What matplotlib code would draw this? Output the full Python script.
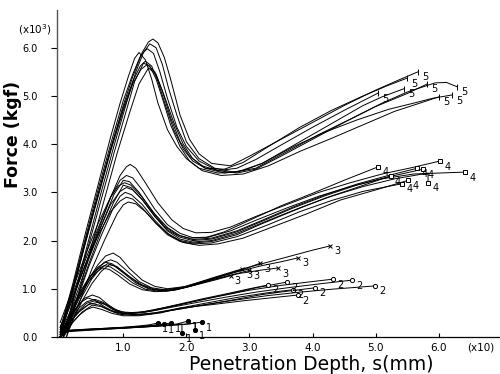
import numpy as np
import matplotlib
matplotlib.use("Agg")
import matplotlib.pyplot as plt

plt.rcParams['font.family'] = ['DejaVu Sans']

# penetration depth in units of 10 mm, force in units of 1000 kgf
# group 5 (top)
g5_x = [
    [0.0, 0.2, 0.4, 0.6, 0.8, 1.0, 1.15, 1.3, 1.4, 1.47, 1.55, 1.65, 1.75, 1.9, 2.05, 2.2, 2.4, 2.7, 3.0, 3.5, 4.0, 4.5, 5.0, 5.4, 5.67],
    [0.05, 0.25, 0.45, 0.65, 0.85, 1.05, 1.2, 1.32, 1.42, 1.52, 1.62, 1.72, 1.85, 2.0, 2.2, 2.45, 2.75, 3.1, 3.6, 4.1, 4.6, 5.1, 5.5, 5.94, 6.12, 6.29],
    [0.0, 0.2, 0.4, 0.6, 0.8, 1.0, 1.15, 1.28, 1.38, 1.48, 1.58, 1.7, 1.85, 2.0, 2.2, 2.5, 2.8, 3.1, 3.5, 4.0, 4.5, 5.0, 5.5, 5.82],
    [0.0, 0.2, 0.4, 0.6, 0.8, 0.95, 1.08, 1.18, 1.25, 1.35, 1.45, 1.55, 1.7, 1.85, 2.0, 2.2, 2.5, 2.8, 3.2, 3.7, 4.2, 4.7, 5.2, 5.6, 5.9, 6.21],
    [0.0, 0.2, 0.4, 0.6, 0.8, 1.0, 1.15, 1.27, 1.35, 1.45, 1.55, 1.67, 1.8, 1.95, 2.1, 2.3, 2.6, 2.9, 3.3, 3.8, 4.3, 4.8, 5.2, 5.5],
    [0.05, 0.25, 0.45, 0.65, 0.85, 1.05, 1.18, 1.32, 1.42, 1.52, 1.62, 1.75, 1.9, 2.05, 2.25, 2.55, 2.9, 3.3, 3.8, 4.3, 4.8, 5.3, 5.7, 6.0],
    [0.1, 0.3, 0.5, 0.7, 0.9, 1.1, 1.25, 1.4, 1.52, 1.65, 1.8, 1.95, 2.1, 2.3, 2.6, 2.9, 3.2, 3.6, 4.0, 4.4, 4.8, 5.1, 5.45],
    [0.0, 0.2, 0.4, 0.6, 0.8, 1.0, 1.15, 1.28, 1.38, 1.5, 1.62, 1.75, 1.9, 2.05, 2.25, 2.5, 2.8, 3.1, 3.5, 4.0, 4.5, 5.04],
]
g5_y = [
    [0.0, 0.95, 1.95, 2.95, 3.9, 4.8, 5.4, 5.9, 6.12, 6.18, 6.1, 5.8, 5.35, 4.6, 4.1, 3.8, 3.6, 3.55, 3.75, 4.1, 4.45, 4.8, 5.12, 5.35, 5.5],
    [0.0, 1.0, 2.0, 3.0, 3.95, 4.85, 5.5, 5.9, 6.08, 6.0, 5.65, 5.15, 4.6, 4.05, 3.7, 3.5, 3.42, 3.5, 3.85, 4.2, 4.52, 4.85, 5.08, 5.27, 5.28, 5.19],
    [0.05, 1.05, 2.05, 3.05, 4.0, 4.9, 5.45, 5.85, 5.98, 5.88, 5.5, 4.95, 4.35, 3.95, 3.65, 3.45, 3.4, 3.48, 3.75, 4.1, 4.45, 4.78, 5.05, 5.25],
    [0.15, 1.1, 2.15, 3.15, 4.15, 4.85, 5.4, 5.78, 5.9, 5.75, 5.35, 4.85, 4.3, 3.95, 3.7, 3.5, 3.4, 3.42, 3.6, 3.95, 4.25, 4.5, 4.72, 4.85, 4.95, 5.02],
    [0.1, 1.0, 2.0, 2.95, 3.9, 4.75, 5.3, 5.62, 5.72, 5.62, 5.3, 4.8, 4.3, 3.9, 3.65, 3.5, 3.48, 3.62, 3.95, 4.35, 4.7, 5.0, 5.22, 5.37],
    [0.0, 0.95, 1.9, 2.85, 3.8, 4.7, 5.3, 5.68, 5.62, 5.35, 4.95, 4.4, 3.95, 3.65, 3.45, 3.35, 3.38, 3.55, 3.85, 4.12, 4.4, 4.68, 4.85, 4.98],
    [0.0, 0.95, 1.9, 2.85, 3.8, 4.65, 5.25, 5.58, 5.45, 5.0, 4.45, 4.0, 3.7, 3.5, 3.4, 3.45, 3.6, 3.9, 4.2, 4.5, 4.8, 4.98, 5.15],
    [0.0, 0.95, 1.95, 2.9, 3.85, 4.7, 5.25, 5.55, 5.65, 5.5, 5.1, 4.55, 4.05, 3.75, 3.55, 3.45, 3.5, 3.68, 3.98, 4.35, 4.7, 5.06],
]

# group 4
g4_x = [
    [0.0, 0.2, 0.4, 0.6, 0.8, 0.95, 1.05, 1.11, 1.2, 1.35, 1.55, 1.77, 1.95, 2.15, 2.4, 2.7, 3.1, 3.6, 4.1, 4.6, 5.1, 5.6, 6.02],
    [0.0, 0.2, 0.4, 0.6, 0.8, 0.95, 1.05, 1.15, 1.3, 1.5, 1.7, 1.9, 2.1, 2.35, 2.7, 3.1, 3.6, 4.1, 4.6, 5.1, 5.6, 6.0, 6.42],
    [0.05, 0.25, 0.45, 0.65, 0.85, 1.0, 1.1, 1.25, 1.45, 1.65, 1.85, 2.05, 2.3, 2.6, 3.0, 3.5, 4.0, 4.5, 5.04],
    [0.0, 0.2, 0.4, 0.6, 0.8, 0.92, 1.02, 1.12, 1.3, 1.5, 1.7, 1.9, 2.1, 2.4, 2.8, 3.2, 3.7, 4.2, 4.7, 5.2, 5.66],
    [0.05, 0.25, 0.45, 0.65, 0.85, 1.0, 1.12, 1.3, 1.5, 1.7, 1.9, 2.1, 2.4, 2.8, 3.2, 3.7, 4.2, 4.7, 5.2, 5.75],
    [0.0, 0.2, 0.4, 0.6, 0.8, 0.95, 1.05, 1.15, 1.3, 1.5, 1.7, 1.9, 2.1, 2.4, 2.8, 3.3, 3.8, 4.3, 4.8, 5.3, 5.83, 5.83],
    [0.05, 0.25, 0.45, 0.65, 0.85, 0.95, 1.03, 1.13, 1.3, 1.5, 1.7, 1.9, 2.1, 2.4, 2.8, 3.2, 3.7, 4.2, 4.7, 5.24],
    [0.0, 0.2, 0.4, 0.6, 0.8, 0.95, 1.05, 1.15, 1.3, 1.5, 1.7, 1.9, 2.1, 2.4, 2.8, 3.3, 3.8, 4.3, 4.8, 5.42],
    [0.1, 0.3, 0.5, 0.7, 0.9, 1.0, 1.08, 1.2, 1.35, 1.55, 1.75, 1.95, 2.2, 2.5, 2.9, 3.4, 3.9, 4.44, 5.0, 5.52],
]
g4_y = [
    [0.1, 0.8, 1.5, 2.2, 2.9, 3.35, 3.53, 3.58, 3.5, 3.2, 2.78, 2.43, 2.25, 2.16, 2.17, 2.28, 2.5, 2.75, 3.0, 3.2, 3.38, 3.52, 3.65],
    [0.2, 0.9, 1.6, 2.25, 2.9, 3.25, 3.35, 3.3, 3.05, 2.65, 2.33, 2.15, 2.06, 2.07, 2.2, 2.42, 2.68, 2.92, 3.12, 3.28, 3.38, 3.4, 3.42],
    [0.1, 0.85, 1.6, 2.3, 2.95, 3.25, 3.22, 3.0, 2.62, 2.3, 2.12, 2.05, 2.06, 2.18, 2.42, 2.72, 2.98, 3.25, 3.53],
    [0.3, 1.0, 1.7, 2.35, 2.9, 3.13, 3.2, 3.15, 2.9, 2.55, 2.27, 2.1, 2.02, 2.05, 2.2, 2.42, 2.7, 2.95, 3.17, 3.35, 3.5],
    [0.0, 0.75, 1.5, 2.2, 2.8, 3.15, 3.1, 2.85, 2.5, 2.22, 2.07, 2.0, 2.03, 2.18, 2.4, 2.68, 2.93, 3.15, 3.32, 3.48],
    [0.1, 0.8, 1.5, 2.15, 2.75, 3.02, 3.1, 3.05, 2.85, 2.5, 2.2, 2.03, 1.97, 2.0, 2.15, 2.42, 2.68, 2.92, 3.12, 3.28, 3.4, 3.2],
    [0.0, 0.7, 1.45, 2.1, 2.7, 2.92, 3.0, 2.95, 2.75, 2.42, 2.15, 2.0, 1.95, 1.98, 2.12, 2.35, 2.62, 2.88, 3.1, 3.34],
    [0.2, 0.85, 1.5, 2.1, 2.6, 2.82, 2.9, 2.86, 2.68, 2.38, 2.12, 1.98, 1.93, 1.95, 2.08, 2.33, 2.6, 2.83, 3.02, 3.18],
    [0.0, 0.7, 1.4, 2.0, 2.55, 2.74, 2.8, 2.76, 2.6, 2.32, 2.1, 1.96, 1.9, 1.93, 2.05, 2.3, 2.55, 2.84, 3.05, 3.25],
]

# group 3
g3_x = [
    [0.0, 0.15, 0.3, 0.45, 0.6, 0.72, 0.84, 0.95, 1.1, 1.3, 1.5, 1.7, 2.0, 2.4, 2.8, 3.2, 3.6, 4.0, 4.28],
    [0.0, 0.15, 0.3, 0.45, 0.6, 0.72, 0.82, 0.95, 1.1, 1.3, 1.5, 1.7, 2.0, 2.4, 2.8, 3.2, 3.5, 3.77],
    [0.05, 0.2, 0.35, 0.5, 0.62, 0.75, 0.85, 1.0, 1.2, 1.4, 1.6, 1.8, 2.1, 2.5, 2.9, 3.17],
    [0.0, 0.15, 0.3, 0.45, 0.58, 0.7, 0.8, 0.95, 1.15, 1.35, 1.55, 1.75, 2.05, 2.45, 2.85, 3.2, 3.45],
    [0.0, 0.15, 0.3, 0.45, 0.57, 0.67, 0.78, 0.92, 1.1, 1.3, 1.5, 1.7, 2.0, 2.4, 2.75, 3.0],
    [0.05, 0.2, 0.35, 0.5, 0.65, 0.78, 0.9, 1.05, 1.25, 1.45, 1.65, 1.85, 2.15, 2.45, 2.7],
    [0.0, 0.15, 0.3, 0.45, 0.6, 0.7, 0.8, 0.9, 1.05, 1.25, 1.45, 1.65, 1.9, 2.3, 2.6, 2.88],
]
g3_y = [
    [0.05, 0.45, 0.85, 1.2, 1.5, 1.68, 1.74, 1.65, 1.42, 1.18, 1.05, 1.0, 1.05, 1.22, 1.38, 1.52, 1.66, 1.8, 1.89],
    [0.0, 0.45, 0.85, 1.2, 1.45, 1.55, 1.52, 1.4, 1.25, 1.08, 0.99, 0.97, 1.04, 1.2, 1.35, 1.48, 1.56, 1.64],
    [0.0, 0.45, 0.85, 1.2, 1.4, 1.52, 1.48, 1.33, 1.12, 1.0, 0.96, 0.97, 1.07, 1.24, 1.4, 1.53],
    [0.1, 0.5, 0.9, 1.22, 1.4, 1.48, 1.45, 1.32, 1.12, 0.99, 0.95, 0.96, 1.05, 1.2, 1.32, 1.39, 1.43],
    [0.0, 0.4, 0.8, 1.15, 1.34, 1.43, 1.4, 1.28, 1.1, 0.98, 0.94, 0.95, 1.03, 1.18, 1.3, 1.38],
    [0.0, 0.35, 0.75, 1.1, 1.36, 1.5, 1.46, 1.3, 1.1, 0.99, 0.96, 0.98, 1.08, 1.18, 1.27],
    [0.0, 0.4, 0.8, 1.15, 1.42, 1.55, 1.6, 1.55, 1.38, 1.15, 1.02, 0.98, 1.02, 1.17, 1.29, 1.4],
]

# group 2
g2_x = [
    [0.0, 0.12, 0.25, 0.38, 0.51, 0.62, 0.75, 0.9, 1.05, 1.3, 1.7, 2.1, 2.5, 3.0, 3.5, 4.0, 4.33],
    [0.0, 0.12, 0.25, 0.35, 0.44, 0.55, 0.7, 0.85, 1.0, 1.3, 1.7, 2.1, 2.6, 3.1, 3.6, 4.1, 4.63],
    [0.0, 0.15, 0.3, 0.42, 0.55, 0.68, 0.82, 0.98, 1.2, 1.5, 1.9, 2.3, 2.8, 3.3, 3.8, 4.3, 4.7, 4.99],
    [0.05, 0.2, 0.35, 0.51, 0.65, 0.8, 0.95, 1.15, 1.45, 1.85, 2.25, 2.7, 3.2, 3.6, 4.04],
    [0.0, 0.15, 0.3, 0.45, 0.6, 0.72, 0.86, 1.0, 1.2, 1.5, 1.9, 2.3, 2.8, 3.3, 3.69],
    [0.0, 0.15, 0.3, 0.42, 0.55, 0.68, 0.82, 0.98, 1.2, 1.5, 1.9, 2.3, 2.7, 3.1, 3.6],
    [0.05, 0.18, 0.33, 0.48, 0.62, 0.78, 0.95, 1.15, 1.45, 1.85, 2.25, 2.65, 3.0, 3.3],
    [0.0, 0.15, 0.3, 0.42, 0.52, 0.66, 0.82, 1.0, 1.25, 1.6, 1.9, 2.4, 2.9, 3.4, 3.77],
]
g2_y = [
    [0.05, 0.35, 0.6, 0.8, 0.87, 0.82, 0.68, 0.55, 0.5, 0.52, 0.62, 0.73, 0.84, 0.97, 1.07, 1.15, 1.2],
    [0.0, 0.3, 0.58, 0.74, 0.81, 0.76, 0.63, 0.52, 0.48, 0.5, 0.6, 0.7, 0.82, 0.93, 1.02, 1.1, 1.18],
    [0.0, 0.3, 0.55, 0.7, 0.75, 0.7, 0.58, 0.49, 0.46, 0.5, 0.58, 0.67, 0.77, 0.86, 0.93, 0.99, 1.03, 1.06],
    [0.0, 0.3, 0.52, 0.66, 0.63, 0.54, 0.47, 0.45, 0.48, 0.57, 0.66, 0.76, 0.88, 0.95, 1.02],
    [0.05, 0.3, 0.52, 0.67, 0.72, 0.67, 0.56, 0.49, 0.46, 0.5, 0.6, 0.7, 0.82, 0.92, 0.98],
    [0.0, 0.35, 0.6, 0.73, 0.78, 0.72, 0.6, 0.52, 0.5, 0.55, 0.67, 0.79, 0.9, 1.02, 1.14],
    [0.0, 0.35, 0.57, 0.7, 0.66, 0.56, 0.5, 0.49, 0.55, 0.67, 0.79, 0.9, 1.0, 1.08],
    [0.0, 0.25, 0.45, 0.57, 0.62, 0.57, 0.49, 0.44, 0.44, 0.5, 0.6, 0.67, 0.75, 0.82, 0.87],
]

# group 1 (bottom)
g1_x = [
    [0.0, 0.08, 0.3, 0.7, 1.1, 1.4, 1.55],
    [0.0, 0.1, 0.4, 0.8, 1.2, 1.5, 1.65],
    [0.0, 0.1, 0.4, 0.9, 1.3, 1.6, 1.76],
    [0.0, 0.12, 0.5, 1.0, 1.4, 1.75, 1.93, 1.93],
    [0.0, 0.1, 0.5, 1.0, 1.5, 1.85, 2.03],
    [0.0, 0.12, 0.6, 1.1, 1.6, 1.95, 2.14, 2.14],
    [0.0, 0.1, 0.6, 1.2, 1.7, 2.05, 2.25],
]
g1_y = [
    [0.0, 0.12, 0.15, 0.18, 0.21, 0.25, 0.29],
    [0.0, 0.13, 0.15, 0.18, 0.21, 0.24, 0.27],
    [0.02, 0.14, 0.16, 0.19, 0.22, 0.26, 0.29],
    [0.0, 0.13, 0.16, 0.19, 0.22, 0.25, 0.27, 0.08],
    [0.0, 0.12, 0.15, 0.18, 0.22, 0.27, 0.33],
    [0.0, 0.11, 0.15, 0.19, 0.23, 0.26, 0.29, 0.14],
    [0.01, 0.13, 0.16, 0.2, 0.24, 0.27, 0.31],
]

groups = [
    (g5_x, g5_y, '5', dict(marker='|', ms=4, mfc='k')),
    (g4_x, g4_y, '4', dict(marker='s', ms=3.5, mfc='white')),
    (g3_x, g3_y, '3', dict(marker='x', ms=3, mfc='k')),
    (g2_x, g2_y, '2', dict(marker='o', ms=3, mfc='white')),
    (g1_x, g1_y, '1', dict(marker='o', ms=3, mfc='k')),
]

fig = plt.figure(figsize=(5, 3.74), dpi=100)
ax = fig.add_axes([0.114, 0.099, 0.886, 0.874])

for xs_all, ys_all, lab, mk in groups:
    for xs, ys in zip(xs_all, ys_all):
        ax.plot(xs, ys, color='black', lw=0.7)
        ax.plot(xs[-1], ys[-1], color='black', mec='black', mew=0.7, ls='none', **mk)
        ax.annotate(lab, (xs[-1], ys[-1]), xytext=(3, -4), textcoords='offset points',
                    fontsize=7, ha='left', va='center')

ax.set_xlim(-0.05, 6.97)
ax.set_ylim(0, 6.78)
ax.set_xticks([1, 2, 3, 4, 5, 6])
ax.set_xticklabels(['1.0', '2.0', '3.0', '4.0', '5.0', '6.0'])
ax.set_yticks([0, 1, 2, 3, 4, 5, 6])
ax.set_yticklabels(['0.0', '1.0', '2.0', '3.0', '4.0', '5.0', '6.0'])
ax.tick_params(axis='x', direction='in', length=3, width=0.8, pad=4, labelsize=7.5)
ax.tick_params(axis='y', direction='out', length=4, width=0.8, pad=10, labelsize=7)
for s in ['top', 'right']:
    ax.spines[s].set_visible(False)
ax.spines['left'].set_color('#555555')
ax.spines['left'].set_linewidth(1.0)
ax.spines['bottom'].set_linewidth(0.9)

fig.text(0.07, 0.92, r'(x10$^3$)', fontsize=7.5, ha='center', va='center')
fig.text(0.962, 0.072, '(x10)', fontsize=7.5, ha='center', va='center')
fig.text(0.622, 0.026, 'Penetration Depth, s(mm)', fontsize=13.5, ha='center', va='center')
fig.text(0.026, 0.64, 'Force (kgf)', fontsize=12.5, rotation=90, ha='center', va='center',
         fontweight='bold')

fig.savefig('out.png', dpi=100)
